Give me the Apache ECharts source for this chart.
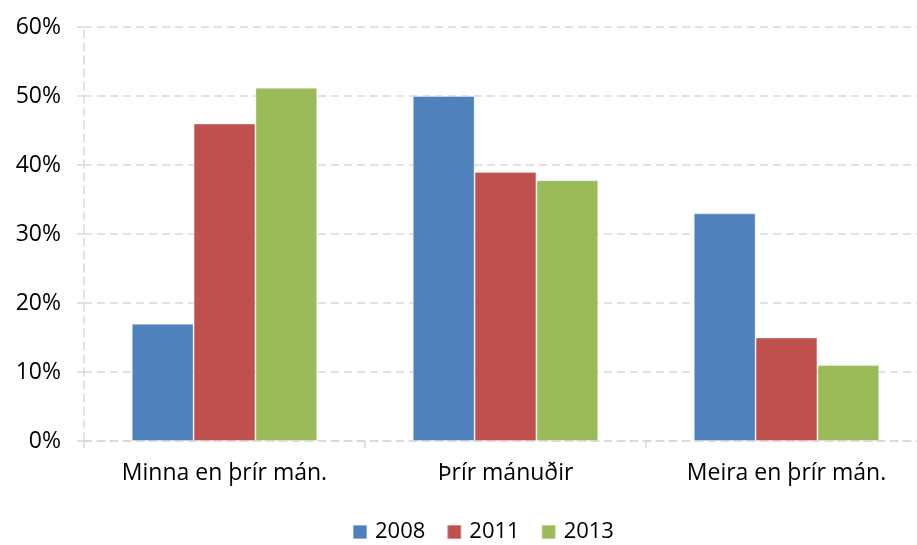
<!DOCTYPE html>
<html>
<head>
<meta charset="utf-8">
<script src="https://cdn.jsdelivr.net/npm/echarts@6/dist/echarts.min.js"></script>
<style>
    html, body { margin: 0; padding: 0; background: #fff; }
    #main { width: 917px; height: 545px; }
</style>
</head>
<body>
<div id="main"></div>
<script>
    // flokkar og gildi (%)
    var categories = ['Minna en þrír mán.', 'Þrír mánuðir', 'Meira en þrír mán.'];
    var years = ['2008', '2011', '2013'];
    var values2008 = [17, 50, 33];
    var values2011 = [46, 39, 15];
    var values2013 = [51.2, 37.8, 11];
    var colors = ['#4F81BD', '#C0504D', '#9BBB59'];

    var gridColor = '#d9d9d9';
    var font = 'Open Sans';

    function barSeries(name, data, color) {
        return {
            name: name,
            type: 'bar',
            data: data,
            barCategoryGap: '34%',
            barGap: '0%',
            itemStyle: {
                color: color,
                borderColor: 'rgba(255,255,255,0.35)',
                borderWidth: 1
            }
        };
    }

    var chart = echarts.init(document.getElementById('main'));
    chart.setOption({
        animation: false,
        color: colors,
        grid: {
            left: 84,
            width: 843,
            top: 27,
            bottom: 104,
            outerBoundsMode: 'none'
        },
        legend: {
            data: years,
            left: 347,
            top: 516,
            itemWidth: 14,
            itemHeight: 14,
            itemGap: 21,
            icon: 'rect',
            textStyle: {
                fontFamily: font,
                fontSize: 22,
                color: '#000',
                padding: [0, 0, 0, 3]
            }
        },
        xAxis: {
            type: 'category',
            data: categories,
            axisLine: {
                lineStyle: { color: gridColor, width: 1.5, type: [8, 5] }
            },
            axisTick: {
                show: true,
                length: 7,
                lineStyle: { color: gridColor, width: 1.5 }
            },
            axisLabel: {
                fontFamily: font,
                fontSize: 23,
                color: '#000',
                margin: 21
            }
        },
        yAxis: {
            type: 'value',
            min: 0,
            max: 60,
            interval: 10,
            axisLine: {
                show: true,
                lineStyle: { color: gridColor, width: 1.5, type: [8, 5] }
            },
            axisTick: {
                show: true,
                length: 7,
                lineStyle: { color: gridColor, width: 1.5 }
            },
            splitLine: {
                lineStyle: { color: gridColor, width: 1.5, type: [8, 5] }
            },
            axisLabel: {
                fontFamily: font,
                fontSize: 23,
                color: '#000',
                margin: 23,
                formatter: '{value}%'
            }
        },
        series: [
            barSeries(years[0], values2008, colors[0]),
            barSeries(years[1], values2011, colors[1]),
            barSeries(years[2], values2013, colors[2])
        ]
    });
</script>
</body>
</html>
